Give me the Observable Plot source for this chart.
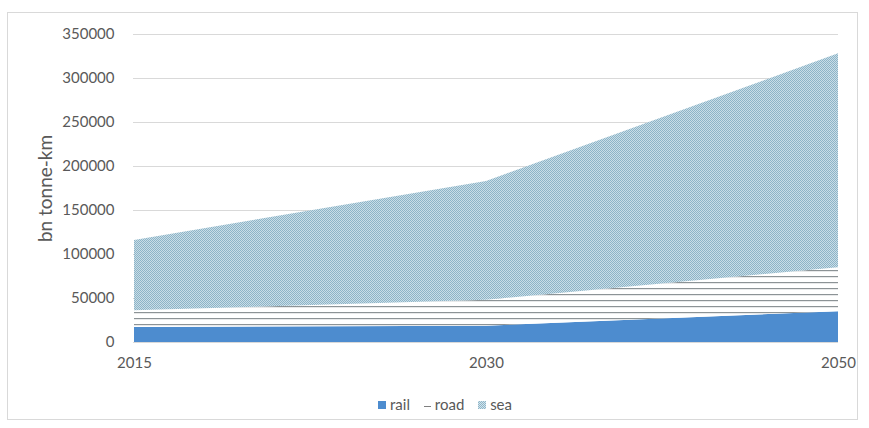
<!DOCTYPE html>
<html>
<head>
<meta charset="utf-8">
<script src="https://cdn.jsdelivr.net/npm/d3@7"></script>
<script src="https://cdn.jsdelivr.net/npm/@observablehq/plot@0.6"></script>
<style>
  html, body { margin: 0; padding: 0; background: #fff; }
  body { width: 869px; height: 428px; position: relative; overflow: hidden; font-family: Lato, "Open Sans", sans-serif; }
  #frame { position: absolute; left: 7px; top: 12px; width: 851px; height: 408px; border: 1px solid #d9d9d9; box-sizing: border-box; }
  #chart { position: absolute; left: 0; top: 0; }
  #legend { position: absolute; left: 0; width: 890px; top: 393px; text-align: center; font-size: 15px; color: #595959; }
  #legend span.item { display: inline-block; margin: 0 5px; vertical-align: middle; }
  .sw { display: inline-block; width: 8px; height: 8px; margin-right: 4px; vertical-align: middle; position: relative; top: -1px; }
  .dash { display: inline-block; width: 7px; height: 1px; background: #7f7f7f; margin-right: 4px; vertical-align: middle; }
</style>
</head>
<body>
<div id="frame"></div>
<div id="chart"></div>
<div id="legend">
  <span class="item"><span class="sw" style="background:#4d8ccf"></span>rail</span>
  <span class="item"><span class="dash"></span>road</span>
  <span class="item"><span class="sw" style="background:repeating-conic-gradient(#8fb6c9 0% 25%, #d3e4ec 0% 50%) 0 0/2px 2px"></span>sea</span>
</div>
<script>
const years = ["2015", "2030", "2050"];
const rail = [17000, 18500, 35000];
const road = [19000, 29500, 50000];
const sea = [80000, 135000, 243000];
const yTicks = [0, 50000, 100000, 150000, 200000, 250000, 300000, 350000];
const modes = ["rail", "road", "sea"];
const fills = {rail: "#4d8ccf", road: "url(#roadPattern)", sea: "url(#seaPattern)"};

const seriesValues = {rail, road, sea};
const rows = [];
for (const m of modes) {
  years.forEach((yr, i) => rows.push({year: yr, mode: m, value: seriesValues[m][i]}));
}

const svg = Plot.plot({
  width: 869,
  height: 375,
  marginLeft: 133,
  marginRight: 31,
  marginTop: 34,
  marginBottom: 33,
  style: {fontFamily: "Lato, 'Open Sans', sans-serif", fontSize: "15px", color: "#595959", background: "transparent"},
  x: {type: "point", domain: years, padding: 0, label: null},
  y: {domain: [0, 350000], label: null},
  marks: [
    Plot.gridY(yTicks, {stroke: "#d9d9d9", strokeOpacity: 1}),
    Plot.areaY(rows, {x: "year", y: "value", z: "mode", order: modes,
      fill: d => fills[d.mode], curve: "linear"}),
    Plot.axisY({ticks: yTicks, tickFormat: d => String(d), tickSize: 0, tickPadding: 19,
      label: "bn tonne-km", labelAnchor: "center", labelArrow: false, labelOffset: 95}),
    Plot.axisX({tickSize: 0, tickPadding: 15, label: null})
  ]
});

d3.select(svg).selectAll('g[aria-label="y-axis label"] text').style("font-size", "19px");

const defs = d3.select(svg).insert("defs", ":first-child");
const sp = defs.append("pattern").attr("id", "seaPattern").attr("patternUnits", "userSpaceOnUse")
  .attr("width", 2).attr("height", 2);
sp.append("rect").attr("width", 2).attr("height", 2).attr("fill", "#c9dde7");
sp.append("rect").attr("x", 0).attr("y", 0).attr("width", 1).attr("height", 1).attr("fill", "#8db4c7");
sp.append("rect").attr("x", 1).attr("y", 1).attr("width", 1).attr("height", 1).attr("fill", "#8db4c7");
const rp = defs.append("pattern").attr("id", "roadPattern").attr("patternUnits", "userSpaceOnUse")
  .attr("width", 10).attr("height", 6);
rp.append("rect").attr("width", 10).attr("height", 6).attr("fill", "#ffffff");
rp.append("rect").attr("y", 0).attr("width", 10).attr("height", 1.2).attr("fill", "#8c9396");

document.getElementById("chart").appendChild(svg);
</script>
</body>
</html>
